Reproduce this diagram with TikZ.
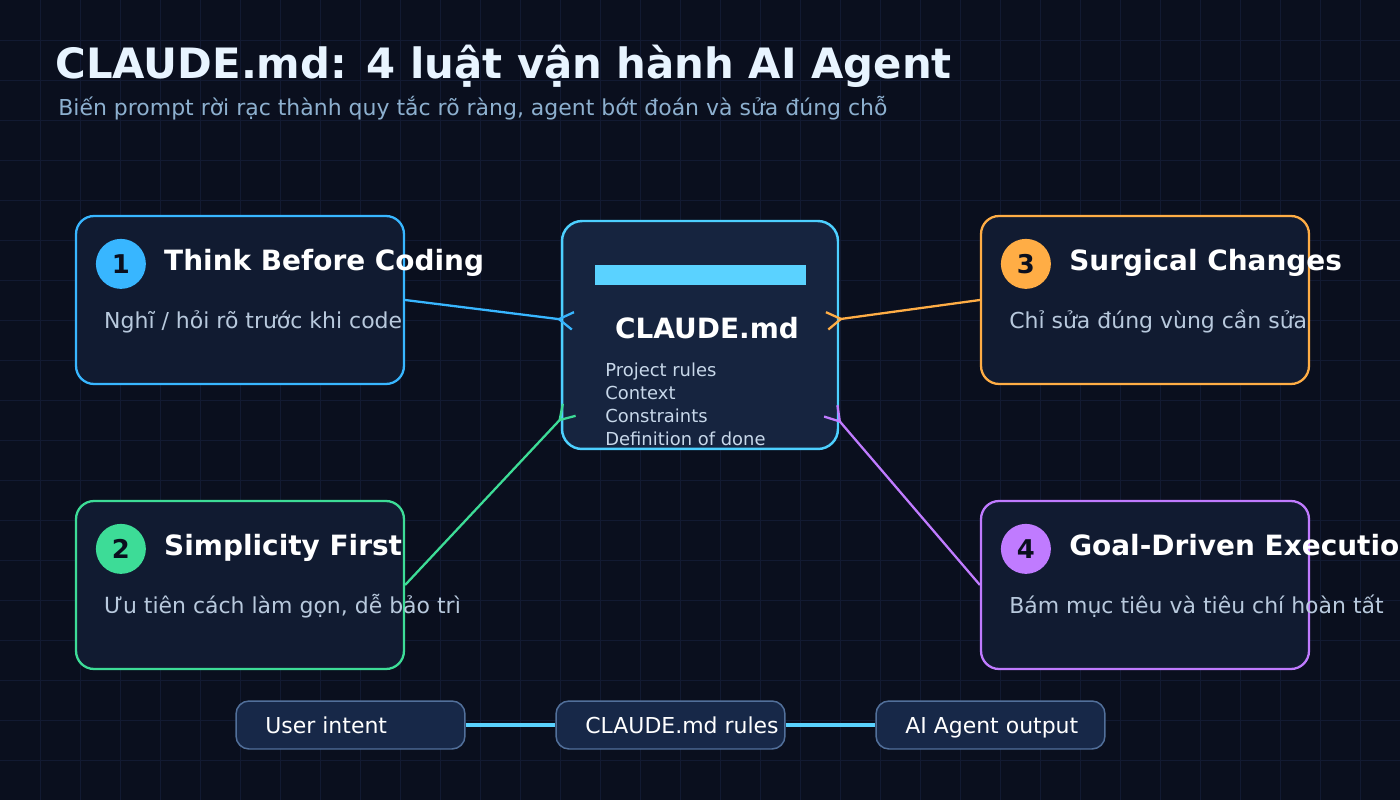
\documentclass[tikz,border=0pt]{standalone}
\usepackage{fontspec}
\setmainfont{DejaVu Sans}
\usetikzlibrary{arrows.meta}
\definecolor{BgDark}{RGB}{10,15,30}
\definecolor{GridLine}{RGB}{18,26,50}
\definecolor{TitleClr}{RGB}{232,244,255}
\definecolor{SubClr}{RGB}{141,176,207}
\definecolor{CardFill}{RGB}{17,27,49}
\definecolor{CoreFill}{RGB}{22,36,63}
\definecolor{CoreEdge}{RGB}{77,208,255}
\definecolor{BarClr}{RGB}{90,210,255}
\definecolor{BlueRule}{RGB}{56,182,255}
\definecolor{GreenRule}{RGB}{61,220,151}
\definecolor{OrangeRule}{RGB}{255,173,69}
\definecolor{PurpleRule}{RGB}{192,123,255}
\definecolor{DescClr}{RGB}{184,201,221}
\definecolor{ListClr}{RGB}{200,216,234}
\definecolor{PillFill}{RGB}{23,40,72}
\definecolor{PillEdge}{RGB}{82,112,155}

\tikzset{
  card/.style={draw=#1,fill=CardFill,line width=1.3pt,rounded corners=0.36cm,
    minimum width=6.56cm,minimum height=3.36cm,inner sep=0pt},
  badge/.style={circle,fill=#1,minimum size=1cm,inner sep=0pt,text=BgDark,
    font=\fontsize{14.7}{17}\selectfont\bfseries},
  cardtitle/.style={anchor=base west,inner sep=0pt,text=white,
    font=\fontsize{15.9}{19}\selectfont\bfseries},
  carddesc/.style={anchor=base west,inner sep=0pt,text=DescClr,
    font=\fontsize{12.5}{15}\selectfont},
  listitem/.style={anchor=base west,inner sep=0pt,text=ListClr,
    font=\fontsize{10.2}{12}\selectfont},
  link/.style={draw=#1,line width=1.3pt,
    -{Straight Barb[reversed,length=0.28cm,width=0.35cm]}},
  pill/.style={draw=PillEdge,fill=PillFill,line width=0.85pt,rounded corners=0.26cm,
    minimum width=4.58cm,minimum height=0.96cm,inner sep=0pt},
  pilltext/.style={anchor=base west,inner sep=0pt,text=white,
    font=\fontsize{12.5}{15}\selectfont},
  flow/.style={draw=BarClr,line width=1.9pt}
}

\begin{document}
\begin{tikzpicture}[x=0.02cm,y=-0.02cm]
\useasboundingbox (0,0) rectangle (1400,800);
\fill[BgDark] (0,0) rectangle (1400,800);
\foreach \g in {40,80,...,1360} \draw[GridLine,line width=0.55pt] (\g,0) -- (\g,800);
\foreach \g in {40,80,...,760} \draw[GridLine,line width=0.55pt] (0,\g) -- (1400,\g);

% heading
\node[anchor=base west,inner sep=0pt,text=TitleClr,font=\fontsize{23.8}{28}\selectfont\bfseries]
  (title) at (55,79) {CLAUDE.md: 4 luật vận hành AI Agent};
\node[anchor=base west,inner sep=0pt,text=SubClr,font=\fontsize{12.5}{15}\selectfont]
  (subtitle) at (58,116) {Biến prompt rời rạc thành quy tắc rõ ràng, agent bớt đoán và sửa đúng chỗ};

% the four rules
\node[card=BlueRule] (c1) at (240,300) {};
\node[card=GreenRule] (c2) at (240,585) {};
\node[card=OrangeRule] (c3) at (1145,300) {};
\node[card=PurpleRule] (c4) at (1145,585) {};

\node[badge=BlueRule] (b1) at ([shift={(46,49)}]c1.north west) {1};
\node[badge=GreenRule] (b2) at ([shift={(46,49)}]c2.north west) {2};
\node[badge=OrangeRule] (b3) at ([shift={(46,49)}]c3.north west) {3};
\node[badge=PurpleRule] (b4) at ([shift={(46,49)}]c4.north west) {4};

\node[cardtitle] (t1) at ([shift={(89,56)}]c1.north west) {Think Before Coding};
\node[cardtitle] (t2) at ([shift={(89,56)}]c2.north west) {Simplicity First};
\node[cardtitle] (t3) at ([shift={(89,56)}]c3.north west) {Surgical Changes};
\node[cardtitle] (t4) at ([shift={(89,56)}]c4.north west) {Goal-Driven Execution};

\node[carddesc] (d1) at ([shift={(29,114)}]c1.north west) {Nghĩ / hỏi rõ trước khi code};
\node[carddesc] (d2) at ([shift={(29,114)}]c2.north west) {Ưu tiên cách làm gọn, dễ bảo trì};
\node[carddesc] (d3) at ([shift={(29,114)}]c3.north west) {Chỉ sửa đúng vùng cần sửa};
\node[carddesc] (d4) at ([shift={(29,114)}]c4.north west) {Bám mục tiêu và tiêu chí hoàn tất};

% core file
\node[draw=CoreEdge,fill=CoreFill,line width=1.4pt,rounded corners=0.4cm,
  minimum width=5.52cm,minimum height=4.56cm] (core) at (700,335) {};
\fill[BarClr] (595,265) rectangle (806,285);
\node[anchor=base,inner sep=0pt,text=white,font=\fontsize{15.9}{19}\selectfont\bfseries]
  (coretitle) at (707,339) {CLAUDE.md};
\foreach \txt [count=\i] in {Project rules,Context,Constraints,Definition of done}
  \node[listitem] (item\i) at (605,354+23*\i) {\txt};

\coordinate (inW) at (574,321);
\coordinate (inE) at (826,321);
\coordinate (inSW) at (570,409);
\coordinate (inSE) at (830,410);
\draw[link=BlueRule] (c1.east) -- (inW);
\draw[link=OrangeRule] (c3.west) -- (inE);
\draw[link=GreenRule] (c2.east) -- (inSW);
\draw[link=PurpleRule] (c4.west) -- (inSE);

% flow at the bottom
\node[pill] (intent) at (350.5,725) {};
\node[pill] (rules) at (670.5,725) {};
\node[pill] (output) at (990.5,725) {};
\node[pilltext] (intenttxt) at (265,733) {User intent};
\node[pilltext] (rulestxt) at (585,733) {CLAUDE.md rules};
\node[pilltext] (outputtxt) at (905,733) {AI Agent output};
\draw[flow] (intent) -- (rules);
\draw[flow] (rules) -- (output);

\end{tikzpicture}
\end{document}
